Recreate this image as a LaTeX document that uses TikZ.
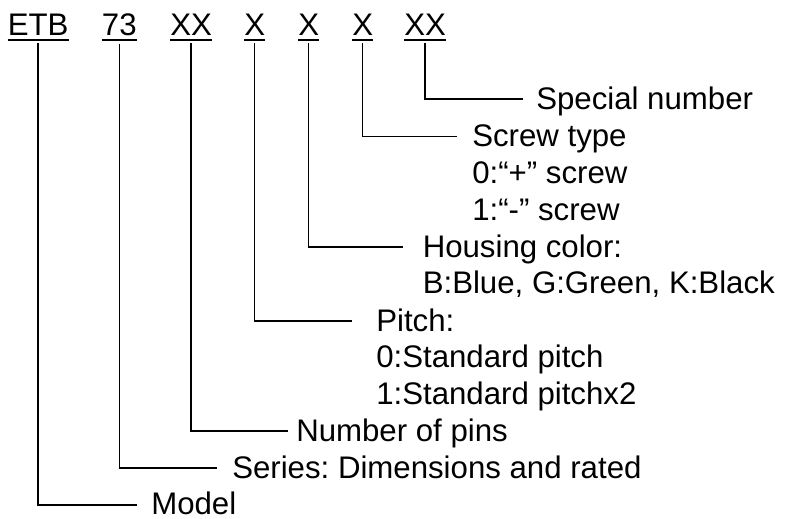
\documentclass[tikz,border=0pt]{standalone}
\usepackage{fontspec}
\setmainfont{Liberation Sans}
\usepackage{tikz}
\usetikzlibrary{positioning,calc}
\frenchspacing

\begin{document}
\begin{tikzpicture}[
    x=0.75pt, y=-0.75pt,
    every node/.style={inner sep=0pt, anchor=base west, font=\fontsize{23.4}{27}\selectfont},
    code/.style={outer ysep=5.7pt},
    wire/.style={line width=1.2pt},
    uline/.style={line width=1.3pt}]

    \useasboundingbox (0,0) rectangle (788,518);

    \node[code] (model)   at (7.5,35.7) {ETB};
    \node[code] (series)  at (101.7,35.7) {73};
    \node[code] (pins)    at (170,35.7) {XX};
    \node[code] (pitch)   at (244,35.7) {X};
    \node[code] (color)   at (298,35.7) {X};
    \node[code] (screw)   at (352,35.7) {X};
    \node[code] (special) at (404,35.7) {XX};

    \foreach \c in {model,series,pins,pitch,color,screw,special}
        \draw[uline] ([yshift=-3.3pt]\c.base west) -- ([yshift=-3.3pt]\c.base east);

    \node (t-special) at (536,109) {Special number};
    \node (t-screw)   at (472,146.5) {Screw type};
    \node (t-screw0)  at (472,183) {0:“+” screw};
    \node (t-screw1)  at (472,220) {1:“-” screw};
    \node (t-color)   at (422.5,257) {Housing color:};
    \node (t-color0)  at (422.5,293.5) {B:Blue, G:Green, K:Black};
    \node (t-pitch)   at (376,331) {Pitch:};
    \node (t-pitch0)  at (376,367.5) {0:Standard pitch};
    \node (t-pitch1)  at (376,404) {1:Standard pitchx2};
    \node (t-pins)    at (296,441) {Number of pins};
    \node (t-series)  at (232,478) {Series: Dimensions and rated};
    \node (t-model)   at (151,514) {Model};

    \draw[wire] (special.south) |- ($(t-special.base west)+(-13.5,-10)$);
    \draw[wire] (screw.south)   |- ($(t-screw.base west)+(-15.5,-10)$);
    \draw[wire] (color.south)   |- ($(t-color.base west)+(-19.5,-10)$);
    \draw[wire] (pitch.south)   |- ($(t-pitch.base west)+(-24,-10)$);
    \draw[wire] (pins.south)    |- ($(t-pins.base west)+(-8,-10)$);
    \draw[wire] (series.south)  |- ($(t-series.base west)+(-15,-10)$);
    \draw[wire] (model.south)   |- ($(t-model.base west)+(-14,-9)$);
\end{tikzpicture}
\end{document}
